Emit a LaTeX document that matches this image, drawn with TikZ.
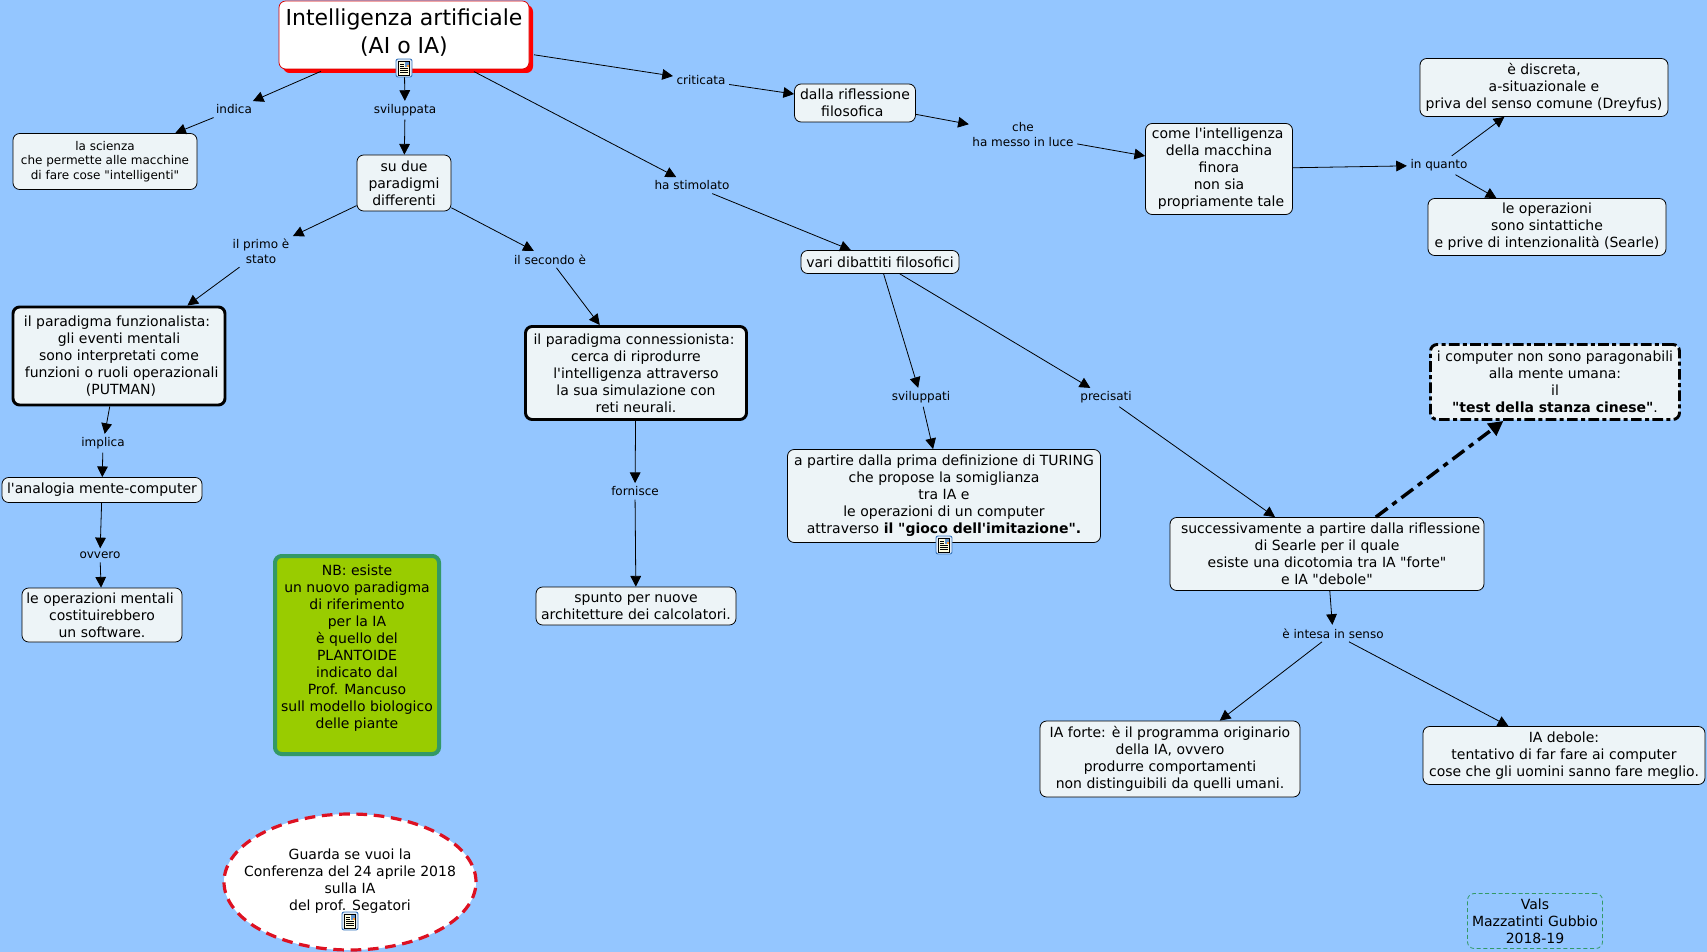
\documentclass[tikz,border=0pt]{standalone}
\usepackage{xcolor}
\usepackage{fontspec}
\setmainfont{DejaVu Sans}[Ligatures=TeXOff]
\usetikzlibrary{arrows.meta,shapes.geometric,shadows}
\definecolor{bgblue}{HTML}{94C6FF}
\definecolor{conceptfill}{HTML}{EDF4F7}
\definecolor{nbfill}{HTML}{99CC00}
\definecolor{nbline}{HTML}{339966}
\definecolor{talkred}{HTML}{DD1122}
\definecolor{iconblue}{HTML}{3A78C0}
\tikzset{
  bodyfont/.style={font=\fontsize{10.5}{12.75}\selectfont},
  boxsize/.style 2 args={minimum width=#1*0.75pt,minimum height=#2*0.75pt},
  concept/.style={draw=black,fill=conceptfill,rounded corners=5pt,line width=0.6pt,align=center,inner sep=0pt,bodyfont},
  strongconcept/.style={concept,line width=2.2pt},
  linkword/.style={align=center,inner sep=2.5pt,yshift=-1pt,font=\fontsize{9}{11}\selectfont},
  link/.style={draw=black,line width=0.6pt,-{Triangle[length=8pt,width=8pt]}},
  rootlink/.style={link,shorten <=3.5pt},
  noteicon/.pic={
    \draw[draw=iconblue,fill=iconblue!15,rounded corners=1.5pt,line width=0.7pt] (-8,-9) rectangle (8,9);
    \fill[yellow!12,draw=black,line width=0.4pt] (-5.5,-7) rectangle (5.5,7);
    \fill[iconblue!80] (0.5,-6) rectangle (4.5,-1);
    \fill[orange!80] (2.5,-3) rectangle (4.5,-1);
    \draw[line width=0.5pt] (-4,-4) -- (-0.5,-4) (-4,-2) -- (-0.5,-2) (-4,0.5) -- (4,0.5) (-4,2.5) -- (4,2.5) (-4,4.5) -- (4,4.5);
  }
}

\begin{document}
\begin{tikzpicture}[x=0.75pt,y=-0.75pt]
      \fill[bgblue] (0,0) rectangle (1707,952);
      \useasboundingbox (0,0) rectangle (1707,952);

      \node[concept,draw=red!85!black,fill=white,boxsize={250}{68},general shadow={fill=red,shadow xshift=3pt,shadow yshift=-3pt},label={[align=center,yshift=1.8pt,font=\fontsize{16.5}{20.5}\selectfont]center:Intelligenza artificiale\\(AI o IA)}] (root) at(404,35){};
      \node[concept,boxsize={184}{56},font=\fontsize{9}{11}\selectfont] (scienza) at(105,161.5){la scienza\\che permette alle macchine\\di fare cose "intelligenti"};
      \node[concept,boxsize={94}{56}] (sudue) at(404,183){su due\\paradigmi\\differenti};
      \node[strongconcept,boxsize={212}{98}] (funzionalista) at(119,356){il paradigma funzionalista:\hspace*{3pt}\\gli eventi mentali\\sono interpretati come\\\hspace*{4pt}funzioni o ruoli operazionali\\\hspace*{3pt}(PUTMAN)};
      \node[concept,boxsize={200}{25}] (analogia) at(102,490){l'analogia mente-computer};
      \node[concept,boxsize={160}{54}] (software) at(102,615){\hspace*{0pt}le operazioni mentali\hspace*{3pt}\\costituirebbero\\un software.};
      \node[strongconcept,boxsize={221}{93}] (connessionista) at(636,373){il paradigma connessionista:\hspace*{3pt}\\cerca di riprodurre\\l'intelligenza attraverso\hspace*{2pt}\\la sua simulazione con\\reti neurali.};
      \node[concept,boxsize={200}{38}] (spunto) at(636,606){spunto per nuove\\architetture dei calcolatori.};
      \node[concept,draw=nbline,fill=nbfill,line width=3pt,boxsize={164}{198}] (plantoide) at(357,655){NB: esiste\\un nuovo paradigma\\di riferimento\hspace*{2pt}\\per la IA\\è quello del\\PLANTOIDE\\indicato dal\\Prof. Mancuso\\sull modello biologico\\delle piante\\~};
      \node[ellipse,draw=talkred,fill=white,line width=2.4pt,dash pattern=on 8pt off 5pt,boxsize={252}{136},inner sep=0pt,label={[align=center,yshift=-5pt,bodyfont]center:Guarda se vuoi la\\Conferenza del 24 aprile 2018\\sulla IA\\del prof. Segatori\\~}] (conferenza) at(350,882){};
      \node[concept,boxsize={158}{23}] (dibattiti) at(880,262){vari dibattiti filosofici};
      \node[concept,boxsize={313}{93}] (turing) at(944,496){a partire dalla prima definizione di TURING\\che propose la somiglianza\\tra IA e\\le operazioni di un computer\\attraverso \textbf{il "gioco dell'imitazione".}};
      \node[concept,boxsize={121}{38}] (riflessione) at(855,103){dalla riflessione\hspace*{0pt}\\filosofica\hspace*{4pt}};
      \node[concept,boxsize={147}{91}] (macchina) at(1219,169){come l'intelligenza\hspace*{2pt}\\della macchina\\finora\\non sia\\\hspace*{3pt}propriamente tale};
      \node[concept,boxsize={248}{58}] (dreyfus) at(1544,87.5){è discreta,\\a-situazionale e\\priva del senso comune (Dreyfus)};
      \node[concept,boxsize={238}{57}] (searle) at(1547,227){le operazioni\\sono sintattiche\\e prive di intenzionalità (Searle)};
      \node[concept,line width=2.2pt,dash pattern=on 8pt off 2.5pt on 3pt off 2.5pt,boxsize={249}{75}] (stanza) at(1555,382){i computer non sono paragonabili\\alla mente umana:\\il\\\textbf{"test della stanza cinese"}.};
      \node[concept,boxsize={314}{73}] (dicotomia) at(1327,554){\hspace*{5.5pt}successivamente a partire dalla riflessione\\di Searle per il quale\hspace*{3pt}\\esiste una dicotomia tra IA "forte"\\e IA "debole"};
      \node[concept,boxsize={260}{76}] (forte) at(1170,759){IA forte: è il programma originario\\della IA, ovvero\\produrre comportamenti\\non distinguibili da quelli umani.};
      \node[concept,boxsize={282}{58}] (debole) at(1564,755.5){IA debole:\\tentativo di far fare ai computer\\cose che gli uomini sanno fare meglio.};
      \node[concept,draw=nbline,densely dashed,fill=none,boxsize={135}{55}] (vals) at(1535,921){Vals\\Mazzatinti Gubbio\\2018-19};

      \node[linkword] (indica) at(234,108){indica};
      \node[linkword] (sviluppata) at(405,109){sviluppata};
      \node[linkword] (primo) at(261,250){il primo è\\stato};
      \node[linkword] (secondo) at(550,258){il secondo è};
      \node[linkword] (implica) at(103,442){implica};
      \node[linkword] (ovvero) at(100,554){ovvero};
      \node[linkword] (fornisce) at(635,490){fornisce};
      \node[linkword] (stimolato) at(692,184){ha stimolato};
      \node[linkword] (sviluppati) at(921,396){sviluppati};
      \node[linkword] (precisati) at(1106,396){precisati};
      \node[linkword] (criticata) at(701,79){criticata};
      \node[linkword] (luce) at(1023,133){che\\ha messo in luce};
      \node[linkword] (quanto) at(1439,164){in quanto};
      \node[linkword] (senso) at(1333,632){è intesa in senso};

      \draw[rootlink] (root) -- (indica);
      \draw[link] (indica) -- (scienza);
      \draw[link] (root) -- (sviluppata);
      \draw[link] (sviluppata) -- (sudue);
      \draw[link] (sudue) -- (primo);
      \draw[link] (primo) -- (funzionalista);
      \draw[link] (sudue) -- (secondo);
      \draw[link] (secondo) -- (connessionista);
      \draw[link] (funzionalista) -- (implica);
      \draw[link] (implica) -- (analogia);
      \draw[link] (analogia) -- (ovvero);
      \draw[link] (ovvero) -- (software);
      \draw[link] (connessionista) -- (fornisce);
      \draw[link] (fornisce) -- (spunto);
      \draw[rootlink] (root) -- (stimolato);
      \draw[link] (stimolato) -- (dibattiti);
      \draw[link] (dibattiti) -- (sviluppati);
      \draw[link] (sviluppati) -- (turing);
      \draw[link] (dibattiti) -- (precisati);
      \draw[link] (precisati) -- (dicotomia);
      \draw[rootlink] (root) -- (criticata);
      \draw[link] (criticata) -- (riflessione);
      \draw[link] (riflessione) -- (luce);
      \draw[link] (luce) -- (macchina);
      \draw[link] (macchina) -- (quanto);
      \draw[link] (quanto) -- (dreyfus);
      \draw[link] (quanto) -- (searle);
      \draw[link] (dicotomia) -- (senso);
      \draw[link] (senso) -- (forte);
      \draw[link] (senso) -- (debole);
      \draw[draw=black,line width=2.6pt,dash pattern=on 11pt off 4.5pt on 4pt off 4.5pt,-{Triangle[length=11pt,width=11pt]}] (dicotomia) -- (stanza);

      \pic at(404,68) {noteicon};
      \pic at(944,545) {noteicon};
      \pic at(350,921) {noteicon};
    \end{tikzpicture}
\end{document}
